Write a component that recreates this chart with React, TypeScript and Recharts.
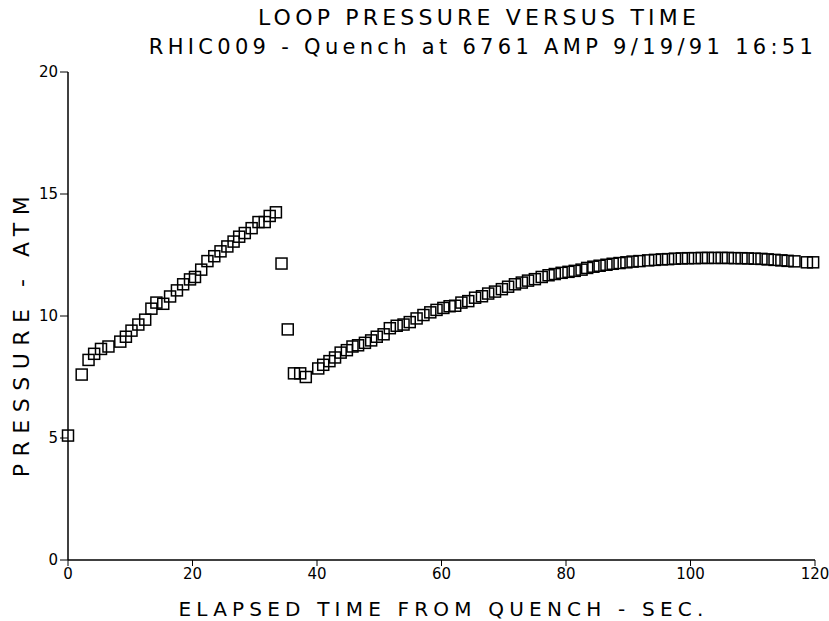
import React from "react";
import { ScatterChart, Scatter, XAxis, YAxis } from "recharts";

// elapsed time (sec) and loop pressure (atm)
const time = [
  0, 2.2, 3.3, 4.2, 5.3, 6.5, 8.4, 9.3, 10.2, 11.3, 12.4, 13.4, 14.2, 15.3,
  16.4, 17.5, 18.5, 19.6, 20.4, 21.4, 22.4, 23.5, 24.5, 25.6, 26.6, 27.5, 28.4,
  29.5, 30.6, 31.6, 32.4, 33.4, 34.3, 35.3, 36.3, 37.3, 38.2,
  40.2, 41.0, 42.0, 42.9, 43.8, 44.8, 45.7, 46.6, 47.7, 48.7, 49.6, 50.7, 51.7,
  52.8, 53.9, 54.9, 56.0, 57.1, 58.2, 59.2, 60.3, 61.3, 62.2, 63.2, 64.3, 65.4,
  66.5, 67.5, 68.6, 69.7, 70.7, 71.8, 72.9, 73.9, 75.0, 76.1, 77.2, 78.2, 79.3,
  80.4, 81.4, 82.5, 83.4, 84.4, 85.4, 86.5, 87.5, 88.6, 89.7, 90.7, 91.8, 93.2,
  94.3, 95.4, 96.4, 97.5, 98.6, 99.6, 100.7, 101.8, 102.8, 103.9, 105.0, 106.0,
  107.1, 108.2, 109.2, 110.3, 111.4, 112.4, 113.5, 114.6, 115.6, 116.7, 118.7,
  119.7,
];
const pressure = [
  5.1, 7.6, 8.2, 8.45, 8.65, 8.75, 8.95, 9.15, 9.4, 9.65, 9.85, 10.3, 10.55,
  10.5, 10.8, 11.05, 11.3, 11.5, 11.6, 11.9, 12.25, 12.45, 12.65, 12.85, 13.05,
  13.25, 13.4, 13.6, 13.85, 13.85, 14.1, 14.25, 12.15, 9.45, 7.65, 7.65, 7.5,
  7.85, 8.0, 8.15, 8.3, 8.5, 8.6, 8.75, 8.8, 8.9, 9.0, 9.15, 9.25, 9.5, 9.6,
  9.65, 9.75, 9.9, 10.04, 10.15, 10.25, 10.33, 10.4, 10.42, 10.55, 10.61, 10.75,
  10.81, 10.92, 11.0, 11.1, 11.2, 11.3, 11.37, 11.45, 11.51, 11.6, 11.67, 11.72,
  11.77, 11.81, 11.85, 11.9, 11.97, 12.02, 12.06, 12.1, 12.14, 12.17, 12.2,
  12.23, 12.25, 12.28, 12.3, 12.32, 12.33, 12.35, 12.36, 12.37, 12.37, 12.38,
  12.38, 12.38, 12.38, 12.38, 12.37, 12.37, 12.36, 12.35, 12.34, 12.32, 12.3,
  12.28, 12.26, 12.24, 12.2, 12.2,
];
const xTicks = [0, 20, 40, 60, 80, 100, 120];
const yTicks = [0, 5, 10, 15, 20];

const points = time.map((t, i) => ({ t, p: pressure[i] }));

const font = "'DejaVu Sans', sans-serif";

const HollowSquare = (props: any) => {
  const { cx, cy } = props;
  return (
    <rect
      x={cx - 5.5}
      y={cy - 5.5}
      width={11}
      height={11}
      fill="none"
      stroke="#000"
      strokeWidth={1.5}
    />
  );
};

const tickStyle = { fill: "#000", fontSize: 15, fontFamily: font };

export default function App() {
  return (
    <div
      style={{
        position: "absolute",
        left: 0,
        top: 0,
        width: 829,
        height: 621,
        background: "#fff",
      }}
    >
      <div
        style={{
          position: "absolute",
          left: 0,
          width: 958,
          top: 5,
          textAlign: "center",
          fontFamily: font,
          fontSize: 22,
          letterSpacing: 4.2,
          lineHeight: "26px",
        }}
      >
        LOOP PRESSURE VERSUS TIME
      </div>
      <div
        style={{
          position: "absolute",
          left: 0,
          width: 966,
          top: 34,
          textAlign: "center",
          fontFamily: font,
          fontSize: 21,
          letterSpacing: 4.3,
          lineHeight: "26px",
        }}
      >
        RHIC009 - Quench at 6761 AMP 9/19/91 16:51
      </div>
      <div
        style={{
          position: "absolute",
          left: 22 - 160,
          top: 333 - 13,
          width: 320,
          textAlign: "center",
          transform: "rotate(-90deg)",
          fontFamily: font,
          fontSize: 22,
          letterSpacing: 7.5,
          lineHeight: "26px",
        }}
      >
        PRESSURE - ATM
      </div>
      <div
        style={{
          position: "absolute",
          left: 0,
          width: 887,
          top: 597,
          textAlign: "center",
          fontFamily: font,
          fontSize: 20,
          letterSpacing: 5.2,
          lineHeight: "24px",
        }}
      >
        ELAPSED TIME FROM QUENCH - SEC.
      </div>
      <ScatterChart
        width={829}
        height={621}
        margin={{ top: 72, right: 14, bottom: 31, left: 0 }}
        style={{ position: "absolute", left: 0, top: 0 }}
      >
        <XAxis
          dataKey="t"
          type="number"
          domain={[0, 120]}
          ticks={xTicks}
          height={30}
          tickSize={6}
          tick={tickStyle}
          axisLine={{ stroke: "#000", strokeWidth: 1.5 }}
          tickLine={{ stroke: "#000" }}
        />
        <XAxis
          xAxisId="top"
          orientation="top"
          type="number"
          domain={[0, 120]}
          height={0}
          tick={false}
          tickLine={false}
          axisLine={{ stroke: "#000", strokeWidth: 1.5 }}
        />
        <YAxis
          dataKey="p"
          type="number"
          domain={[0, 20]}
          ticks={yTicks}
          width={68}
          tickSize={8}
          tick={tickStyle}
          axisLine={{ stroke: "#000", strokeWidth: 1.5 }}
          tickLine={{ stroke: "#000" }}
        />
        <YAxis
          yAxisId="right"
          orientation="right"
          type="number"
          domain={[0, 20]}
          width={0}
          tick={false}
          tickLine={false}
          axisLine={{ stroke: "#000", strokeWidth: 1.5 }}
        />
        <Scatter data={points} shape={HollowSquare} isAnimationActive={false} />
      </ScatterChart>
    </div>
  );
}
